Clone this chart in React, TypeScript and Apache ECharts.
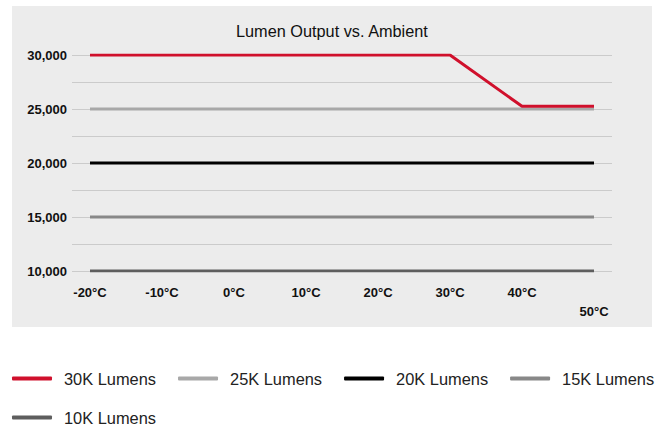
import React, { useEffect, useRef } from "react";
import * as echarts from "echarts";

const temps = [-20, -10, 0, 10, 20, 30, 40, 50];
const xTickLabels = ["-20°C", "-10°C", "0°C", "10°C", "20°C", "30°C", "40°C", "50°C"];
const yLabelValues = [10000, 15000, 20000, 25000, 30000];

const seriesNames = ["30K Lumens", "25K Lumens", "20K Lumens", "15K Lumens", "10K Lumens"];
const lum30 = [30000, 30000, 30000, 30000, 30000, 30000, 25250, 25250];
const lum25 = [25000, 25000, 25000, 25000, 25000, 25000, 25000, 25000];
const lum20 = [20000, 20000, 20000, 20000, 20000, 20000, 20000, 20000];
const lum15 = [15000, 15000, 15000, 15000, 15000, 15000, 15000, 15000];
const lum10 = [10000, 10000, 10000, 10000, 10000, 10000, 10000, 10000];
const seriesValues = [lum30, lum25, lum20, lum15, lum10];
const seriesColors = ["#d0102c", "#a8a8a8", "#000000", "#888888", "#5e5e5e"];

const FONT = "'Liberation Sans', Arial, Helvetica, sans-serif";

export default function App() {
  const ref = useRef<HTMLDivElement>(null);
  useEffect(() => {
    document.body.style.margin = "0";
    const chart = echarts.init(ref.current!, null, { renderer: "svg" });
    chart.setOption({
      animation: false,
      backgroundColor: "#ffffff",
      textStyle: { fontFamily: FONT },
      title: {
        text: "Lumen Output vs. Ambient",
        left: 231,
        top: 18,
        textStyle: { fontFamily: FONT, fontSize: 16.3, fontWeight: "normal", color: "#111111" },
      },
      graphic: {
        z: -10,
        elements: [
          {
            type: "rect",
            z: -10,
            silent: true,
            shape: { x: 12, y: 6, width: 640, height: 321 },
            style: { fill: "#ececec" },
          },
        ],
      },
      grid: { left: 72, top: 55, width: 540, height: 216, containLabel: false },
      xAxis: {
        type: "value",
        min: -22.5,
        max: 52.5,
        axisLine: { show: false },
        axisTick: { show: false },
        splitLine: { show: false },
        axisLabel: {
          customValues: temps,
          margin: 15,
          color: "#111111",
          fontFamily: FONT,
          fontSize: 13,
          fontWeight: "bold",
          formatter: (v: number) => {
            const i = temps.indexOf(v);
            const s = i >= 0 ? xTickLabels[i] : "";
            return i === temps.length - 1 ? "{low|" + s + "}" : s;
          },
          rich: {
            low: {
              padding: [19, 0, 0, 0],
              fontFamily: FONT,
              fontSize: 13,
              fontWeight: "bold",
              color: "#111111",
            },
          },
        },
      },
      yAxis: {
        type: "value",
        min: 10000,
        max: 30000,
        interval: 2500,
        axisLine: { show: false },
        axisTick: { show: false },
        splitLine: { show: true, lineStyle: { color: "#cbcbcb", width: 1 } },
        axisLabel: {
          margin: 5,
          color: "#111111",
          fontFamily: FONT,
          fontSize: 13,
          fontWeight: "bold",
          formatter: (v: number) =>
            yLabelValues.indexOf(v) >= 0 ? v.toLocaleString("en-US") : "",
        },
      },
      legend: {
        left: 12,
        top: 370,
        width: 653,
        padding: 0,
        itemWidth: 40,
        itemHeight: 4,
        itemGap: 22,
        icon: "roundRect",
        textStyle: {
          fontFamily: FONT,
          fontSize: 16.4,
          color: "#222222",
          lineHeight: 17,
          padding: [0, 0, 0, 7],
        },
        data: seriesNames,
      },
      series: seriesNames.map((name, k) => ({
        name,
        type: "line",
        showSymbol: false,
        symbol: "none",
        z: k === 0 ? 5 : 3,
        color: seriesColors[k],
        lineStyle: { width: 3, color: seriesColors[k] },
        data: temps.map((t, i) => [t, seriesValues[k][i]]),
      })),
    });
    return () => chart.dispose();
  }, []);
  return <div ref={ref} style={{ width: 665, height: 425 }} />;
}
